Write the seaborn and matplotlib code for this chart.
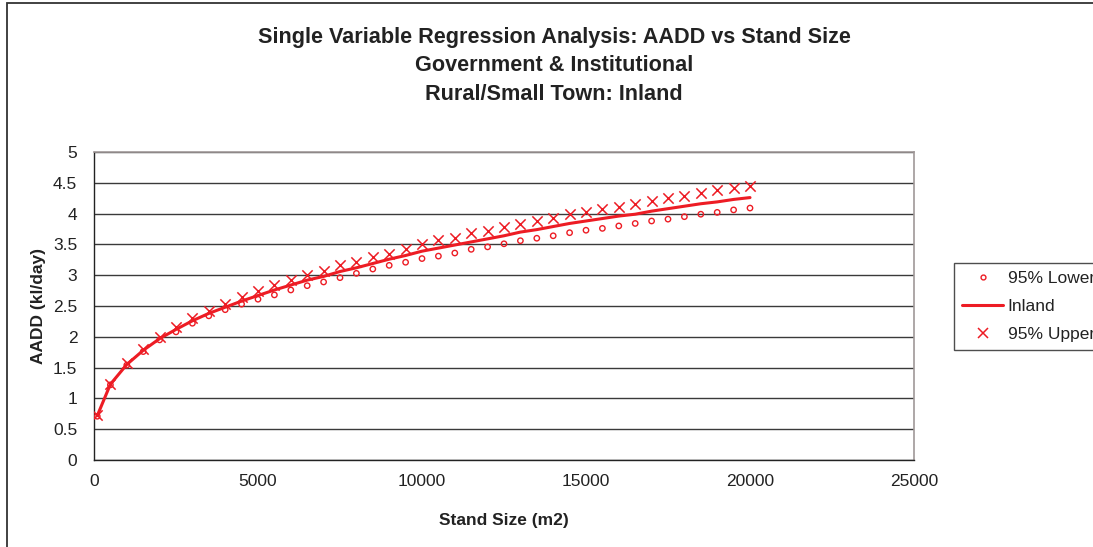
import matplotlib
matplotlib.use("Agg")
import matplotlib.pyplot as plt
import seaborn as sns
import pandas as pd
from matplotlib.patches import Rectangle
from matplotlib.lines import Line2D

# valores
stand_size = [100, 500, 1000, 1500, 2000, 2500, 3000, 3500, 4000, 4500,
              5000, 5500, 6000, 6500, 7000, 7500, 8000, 8500, 9000, 9500,
              10000, 10500, 11000, 11500, 12000, 12500, 13000, 13500, 14000, 14500,
              15000, 15500, 16000, 16500, 17000, 17500, 18000, 18500, 19000, 19500,
              20000]

inland = [0.72, 1.23, 1.55, 1.78, 1.97, 2.12, 2.26, 2.38, 2.48, 2.58,
          2.67, 2.76, 2.84, 2.92, 2.98, 3.06, 3.12, 3.19, 3.26, 3.32,
          3.39, 3.44, 3.49, 3.54, 3.59, 3.64, 3.70, 3.74, 3.79, 3.84,
          3.88, 3.92, 3.96, 3.99, 4.04, 4.08, 4.12, 4.16, 4.19, 4.23,
          4.26]

lower = [0.71, 1.22, 1.54, 1.76, 1.95, 2.08, 2.22, 2.34, 2.44, 2.53,
         2.61, 2.68, 2.76, 2.83, 2.89, 2.96, 3.03, 3.10, 3.16, 3.21,
         3.27, 3.31, 3.36, 3.42, 3.46, 3.51, 3.56, 3.60, 3.64, 3.69,
         3.73, 3.76, 3.80, 3.84, 3.88, 3.91, 3.95, 3.99, 4.02, 4.06,
         4.09]

upper = [0.73, 1.24, 1.57, 1.80, 2.00, 2.16, 2.30, 2.42, 2.53, 2.64,
         2.74, 2.84, 2.92, 3.01, 3.07, 3.17, 3.22, 3.29, 3.35, 3.43,
         3.50, 3.57, 3.61, 3.68, 3.72, 3.79, 3.83, 3.88, 3.93, 3.99,
         4.03, 4.07, 4.11, 4.15, 4.20, 4.25, 4.29, 4.33, 4.38, 4.42,
         4.44]

x_ticks = [0, 5000, 10000, 15000, 20000, 25000]
y_ticks = [0, 0.5, 1, 1.5, 2, 2.5, 3, 3.5, 4, 4.5, 5]
y_tick_labels = ["0", "0.5", "1", "1.5", "2", "2.5", "3", "3.5", "4", "4.5", "5"]

VERMELHO = "#ed1c24"
W, H = 1093, 547

sns.set_style("white")
plt.rcParams["font.family"] = ["Liberation Sans", "DejaVu Sans"]

df = pd.DataFrame({"stand": stand_size, "inland": inland,
                   "lower": lower, "upper": upper})

fig = plt.figure(figsize=(W / 100, H / 100), dpi=100)
ax = fig.add_axes([94 / W, 1 - 460 / H, (914 - 94) / W, (460 - 152) / H])

# linhas de grade horizontais
for y in y_ticks:
    ax.axhline(y, color="#3a3a3a", lw=1.0, zorder=1)

sns.scatterplot(data=df, x="stand", y="lower", ax=ax, marker="o", s=15,
                color=VERMELHO, facecolors="none", edgecolor=VERMELHO,
                linewidth=1.0, zorder=3, legend=False)
sns.lineplot(data=df, x="stand", y="inland", ax=ax, color=VERMELHO,
             lw=2.2, zorder=4, legend=False)
sns.scatterplot(data=df, x="stand", y="upper", ax=ax, marker="x", s=55,
                color=VERMELHO, linewidth=1.1, zorder=5, legend=False)

ax.set_xlim(0, 25000)
ax.set_ylim(0, 5)
ax.set_xticks(x_ticks)
ax.set_xticklabels([str(t) for t in x_ticks])
ax.set_yticks(y_ticks)
ax.set_yticklabels(y_tick_labels)
ax.tick_params(axis="both", direction="out", length=4, width=1,
               color="#222222", labelsize=12.5, labelcolor="#222222")
ax.tick_params(axis="y", pad=8)
ax.tick_params(axis="x", pad=6)

for lado in ["top", "right"]:
    ax.spines[lado].set_color("#a09898")
    ax.spines[lado].set_linewidth(1.2)
for lado in ["left", "bottom"]:
    ax.spines[lado].set_color("#222222")
    ax.spines[lado].set_linewidth(1.0)

ax.set_xlabel("Stand Size (m2)", fontsize=12.5, fontweight="bold",
              color="#222222", labelpad=17)
ax.set_ylabel("AADD (kl/day)", fontsize=12.5, fontweight="bold",
              color="#222222", labelpad=5)

titulos = ["Single Variable Regression Analysis: AADD vs Stand Size",
           "Government & Institutional",
           "Rural/Small Town: Inland"]
for i, t in enumerate(titulos):
    fig.text(554 / W, 1 - (37 + 28.5 * i) / H, t, ha="center", va="center",
             fontsize=15.6, fontweight="bold", color="#222222")

handles = [
    Line2D([], [], ls="none", marker="o", ms=3.5, mfc="none",
           mec=VERMELHO, mew=1.0),
    Line2D([], [], color=VERMELHO, lw=2.2),
    Line2D([], [], ls="none", marker="x", ms=7.5, mec=VERMELHO, mew=1.1),
]
leg = fig.legend(handles, ["95% Lower", "Inland", "95% Upper"],
                 loc="upper left", bbox_to_anchor=(954 / W, 1 - 263 / H),
                 frameon=True, fancybox=False, shadow=False, fontsize=12.5,
                 handlelength=2.4, handletextpad=0.25, labelspacing=0.75,
                 borderpad=0.45, borderaxespad=0)
leg.get_frame().set_edgecolor("#222222")
leg.get_frame().set_linewidth(1.0)
for t in leg.get_texts():
    t.set_color("#222222")

# moldura externa do grafico
fig.add_artist(Rectangle((7 / W, -0.1), 1.2, 1.1 - 3 / H,
                         transform=fig.transFigure, fill=False,
                         edgecolor="#333333", lw=1.3))

fig.savefig("out.png", dpi=100)
